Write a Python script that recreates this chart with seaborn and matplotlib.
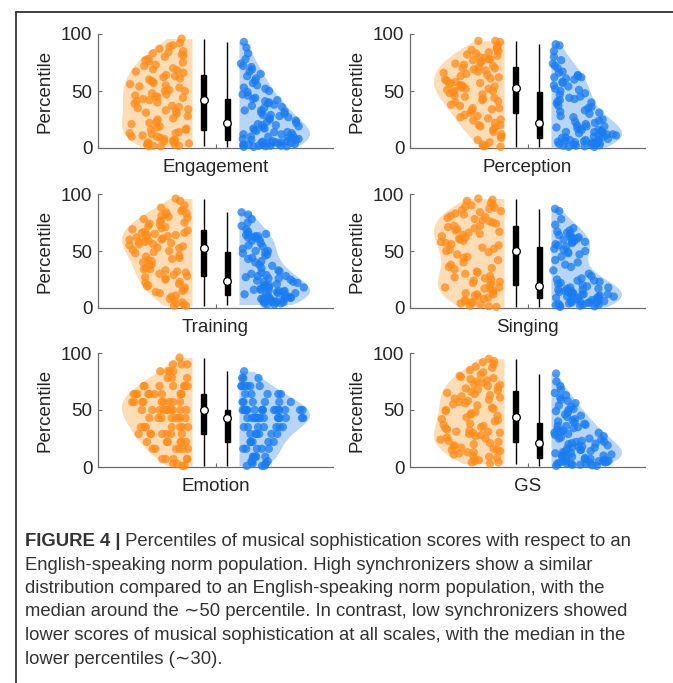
import numpy as np
import pandas as pd
import matplotlib.pyplot as plt
import seaborn as sns
from matplotlib.lines import Line2D

# ---- Data (percentiles) ----
scales = ["Engagement", "Perception", "Training", "Singing", "Emotion", "GS"]

# high synchronizers (orange, left half)
high_engagement = [1.5, 1.5, 2, 2, 3, 3, 4, 4, 5, 6, 6, 7, 7, 8, 9, 10, 10, 11, 12, 13, 13, 14,
                   16, 16, 17, 18, 19, 21, 22, 23, 25, 26, 28, 30, 31, 32, 33, 34, 35, 36, 37, 39, 40, 41,
                   42,
                   43, 44, 45, 45, 46, 47, 48, 50, 50, 51, 53, 54, 55, 56, 57, 58, 59, 60, 61, 62, 63, 64,
                   66, 67, 68, 69, 70, 72, 73, 75, 76, 77, 78, 80, 81, 82, 83, 84, 85, 87, 89, 90, 92, 96]
high_perception = [1, 1.5, 2, 3, 5, 7, 9, 10, 12, 14, 16, 18, 19, 20, 20, 22, 24, 25, 26, 27, 28, 29,
                   31, 33, 34, 35, 35, 37, 38, 40, 41, 42, 43, 44, 45, 46, 47, 48, 49, 50, 50, 51, 52, 52,
                   53,
                   54, 54, 55, 55, 56, 57, 57, 58, 59, 60, 61, 62, 63, 64, 65, 66, 67, 68, 69, 70, 70, 71,
                   72, 73, 74, 75, 76, 77, 78, 78, 79, 80, 81, 82, 83, 84, 85, 86, 87, 88, 90, 93, 94, 94]
high_training = [2, 2, 3, 4, 5, 7, 8, 10, 11, 13, 14, 15, 16, 18, 19, 20, 21, 22, 23, 25, 26, 27,
                 28, 29, 30, 31, 32, 33, 34, 34, 35, 37, 38, 40, 41, 42, 43, 44, 45, 46, 48, 49, 50, 51,
                 52.5,
                 53, 54, 55, 56, 56, 57, 58, 58, 59, 60, 60, 61, 62, 62, 63, 64, 64, 65, 66, 66, 67, 68,
                 69, 70, 71, 72, 73, 74, 75, 76, 77, 78, 79, 80, 81, 82, 83, 84, 85, 86, 88, 90, 94, 96]
high_singing = [1, 1.5, 2, 3, 4, 5, 5, 6, 7, 8, 9, 10, 11, 12, 12, 13, 14, 15, 16, 17, 18, 18,
                20, 21, 22, 23, 24, 25, 26, 27, 28, 30, 31, 32, 34, 35, 36, 38, 40, 42, 44, 45, 47, 49,
                50,
                51, 52, 53, 55, 56, 57, 58, 59, 60, 61, 62, 63, 64, 65, 66, 67, 68, 69, 70, 71, 72, 72,
                74, 75, 76, 77, 78, 79, 80, 81, 82, 83, 84, 85, 86, 87, 88, 89, 90, 91, 92, 94, 95, 96]
high_emotion = ([1] * 2 + [3] * 2 + [7] * 5 + [16] * 6 + [22] * 6 + [29] * 7 + [35] * 7 + [43] * 8
                + [50] * 10 + [57] * 9 + [64] * 10 + [71] * 7 + [78] * 3 + [84] * 4 + [90] * 3 + [96] * 1)
high_gs = [3, 4, 4, 5, 6, 7, 8, 9, 10, 11, 12, 13, 13, 14, 15, 15, 16, 17, 18, 19, 20, 21,
           22, 23, 24, 25, 26, 27, 28, 29, 30, 30, 31, 31, 32, 33, 34, 35, 36, 37, 38, 40, 41, 42,
           43.5,
           45, 46, 47, 48, 49, 50, 51, 52, 54, 55, 56, 57, 58, 59, 60, 61, 62, 63, 64, 65, 66, 67,
           68, 69, 70, 71, 72, 73, 74, 75, 76, 77, 78, 79, 80, 81, 83, 85, 87, 88, 90, 92, 93, 95]

# low synchronizers (blue, right half)
low_engagement = [1, 1, 1.5, 1.5, 2, 2, 2, 2.5, 3, 3, 3, 3.5, 4, 4, 4, 4.5, 5, 5, 5, 5.5, 6, 6,
                  7, 7, 8, 8, 9, 9, 10, 10, 11, 12, 12, 13, 14, 14, 15, 16, 17, 17, 18, 19, 20, 20,
                  21,
                  22, 23, 24, 25, 26, 27, 28, 29, 29, 30, 31, 32, 33, 33, 35, 36, 37, 38, 39, 40, 41, 42,
                  43, 44, 46, 47, 49, 50, 52, 53, 55, 57, 59, 61, 63, 65, 67, 69, 71, 72, 74, 78, 83, 88, 93]
low_perception = [1, 1, 1.5, 2, 2, 2.5, 3, 3, 3.5, 4, 4, 4.5, 5, 5, 5.5, 6, 6, 6.5, 7, 7, 7.5, 8,
                  9, 9, 10, 10, 11, 11, 12, 12, 13, 13, 14, 14, 15, 15, 16, 16, 17, 17, 18, 19, 19, 20,
                  21,
                  22, 23, 24, 25, 27, 28, 30, 31, 32, 33, 35, 36, 37, 39, 40, 41, 42, 43, 44, 45, 47, 48,
                  50, 51, 52, 54, 55, 57, 58, 60, 61, 62, 62, 63, 64, 66, 67, 70, 72, 74, 77, 80, 85, 90, 91]
low_training = [3, 3, 4, 4, 5, 5, 5, 6, 6, 6, 7, 7, 7, 8, 8, 8, 8, 9, 9, 9, 10, 10,
                11, 12, 12, 13, 13, 14, 14, 15, 15, 15, 16, 16, 17, 18, 18, 19, 20, 20, 21, 22, 23, 23,
                24,
                25, 26, 26, 27, 28, 28, 29, 30, 31, 32, 33, 35, 37, 38, 40, 41, 43, 44, 46, 47, 48, 49,
                50, 50, 52, 54, 55, 57, 59, 60, 62, 62, 63, 63, 64, 65, 65, 67, 69, 72, 75, 78, 82, 84]
low_singing = [1, 1.5, 2, 2, 2.5, 3, 3, 3.5, 4, 4, 4.5, 5, 5, 5.5, 6, 6, 6.5, 7, 7, 7.5, 8, 8.5,
               9, 9, 10, 10, 10, 11, 11, 12, 12, 12, 13, 13, 14, 14, 15, 15, 16, 16, 17, 17, 18, 18,
               19,
               20, 21, 22, 23, 24, 24, 25, 26, 28, 30, 33, 36, 38, 40, 42, 45, 47, 48, 49, 50, 51, 52,
               54, 55, 56, 57, 58, 58, 59, 60, 60, 61, 62, 62, 63, 64, 65, 66, 67, 68, 70, 73, 78, 85, 87]
low_emotion = ([1] * 3 + [3] * 3 + [5] * 3 + [9] * 5 + [16] * 5 + [22] * 5 + [29] * 6 + [35] * 7
               + [43] * 14 + [50] * 16 + [57] * 6 + [64] * 5 + [71] * 6 + [78] * 3 + [84] * 1)
low_gs = [1, 1, 1.5, 2, 2, 2.5, 3, 3, 3, 3.5, 4, 4, 4.5, 5, 5, 5, 5.5, 6, 6, 6.5, 7, 7,
          8, 8, 9, 9, 10, 10, 11, 11, 12, 12, 13, 14, 14, 15, 15, 16, 17, 17, 18, 18, 19, 20,
          20.5,
          21, 22, 22, 23, 24, 25, 25, 26, 27, 28, 29, 30, 30, 31, 32, 33, 34, 35, 36, 36, 37, 38,
          39, 40, 41, 42, 44, 45, 46, 48, 49, 50, 51, 53, 54, 56, 58, 59, 61, 63, 65, 68, 71, 75, 82]

high = [high_engagement, high_perception, high_training, high_singing, high_emotion, high_gs]
low = [low_engagement, low_perception, low_training, low_singing, low_emotion, low_gs]

# ---- Style ----
sns.set_style("ticks")
plt.rcParams["font.family"] = ["Liberation Sans", "DejaVu Sans"]
text_col = "#262626"
spine_col = "#6e6e6e"
fill_pal = {"High": "#FDDCB6", "Low": "#B8D5F8"}
dot_pal = {"High": "#FF8C1A", "Low": "#1A7CF0"}
groups = ["High", "Low"]
BW_ADJ = 1.35


def kde_span(vals, at):
    # relative half-violin width at each value (same scott rule as seaborn)
    v = np.asarray(vals, float)
    bw = BW_ADJ * v.std(ddof=1) * len(v) ** (-1 / 5)
    dens = lambda t: np.exp(-0.5 * ((np.asarray(t)[:, None] - v[None, :]) / bw) ** 2).sum(1)
    grid = np.linspace(v.min(), v.max(), 100)
    return dens(at) / dens(grid).max()


fig = plt.figure(figsize=(6.73, 6.83), dpi=100)
rng = np.random.default_rng(7)

lefts = [98 / 673, 410 / 673]
bottoms = [1 - 148 / 683, 1 - 308 / 683, 1 - 467 / 683]
w, h = 235 / 673, 114 / 683

for i, scale in enumerate(scales):
    ax = fig.add_axes([lefts[i % 2], bottoms[i // 2], w, h])
    df = pd.DataFrame({
        "scale": scale,
        "value": high[i] + low[i],
        "group": ["High"] * len(high[i]) + ["Low"] * len(low[i]),
    })

    sns.violinplot(data=df, x="scale", y="value", hue="group", hue_order=groups,
                   split=True, gap=0.4, width=2.0, cut=0, inner=None, bw_adjust=BW_ADJ,
                   density_norm="width", palette=fill_pal, saturation=1,
                   linewidth=0, legend=False, ax=ax)

    sns.boxplot(data=df, x="scale", y="value", hue="group", hue_order=groups,
                width=0.4, gap=0.8, whis=(0, 100), showcaps=False, showfliers=False,
                palette={"High": "black", "Low": "black"}, saturation=1,
                linecolor="black", linewidth=1, medianprops={"visible": False},
                legend=False, ax=ax)

    sns.pointplot(data=df, x="scale", y="value", hue="group", hue_order=groups,
                  estimator="median", errorbar=None, dodge=0.2, markers="o",
                  linestyle="none", palette={"High": "white", "Low": "white"},
                  markersize=5.5, markeredgecolor="black", markeredgewidth=0.9,
                  legend=False, ax=ax, zorder=6)

    # jittered points inside each half violin
    hv = np.asarray(high[i], float)
    lv = np.asarray(low[i], float)
    hx = -0.2 - rng.uniform(0.05, 0.93, len(hv)) * 0.6 * kde_span(hv, hv)
    lx = 0.2 + rng.uniform(0.05, 0.93, len(lv)) * 0.6 * kde_span(lv, lv)
    sns.scatterplot(x=np.r_[hx, lx], y=np.r_[hv, lv], hue=df["group"].values,
                    hue_order=groups, palette=dot_pal, s=36, alpha=0.75,
                    linewidth=0, legend=False, ax=ax, zorder=3, clip_on=False)

    ax.set_xlim(-1, 1)
    ax.set_ylim(0, 100)
    ax.set_yticks([0, 50, 100])
    ax.set_xticks([0], [scale])
    ax.set_xlabel("")
    ax.set_ylabel("Percentile", fontsize=13.5, color=text_col)
    ax.yaxis.set_label_coords(-0.19, 0.5)
    ax.tick_params(direction="in", length=3, width=0.8, color=spine_col,
                   labelsize=13.5, labelcolor=text_col)
    ax.tick_params(axis="x", pad=8)
    ax.tick_params(axis="y", pad=4)
    for side in ["top", "right"]:
        ax.spines[side].set_visible(False)
    for side in ["left", "bottom"]:
        ax.spines[side].set_color(spine_col)
        ax.spines[side].set_linewidth(0.9)

# ---- frame lines ----
fig.add_artist(Line2D([16 / 673, 1], [1 - 12 / 683] * 2, color="#333333", lw=1.3))
fig.add_artist(Line2D([16 / 673] * 2, [0, 1 - 12 / 683], color="#333333", lw=1.3))

# ---- caption ----
cap_col = "#333333"
cap_size = 13.3
x0 = 25 / 673
line_h = 23.5 / 683
y0 = 1 - 550 / 683
bold = fig.text(x0, y0, "FIGURE 4 |", fontsize=cap_size, fontweight="bold",
                color=cap_col, va="bottom")
ax.annotate(" Percentiles of musical sophistication scores with respect to an",
            xy=(1, 0), xycoords=bold, va="bottom", ha="left",
            fontsize=cap_size, color=cap_col, annotation_clip=False)
lines = [
    "English-speaking norm population. High synchronizers show a similar",
    "distribution compared to an English-speaking norm population, with the",
    "median around the \u223c50 percentile. In contrast, low synchronizers showed",
    "lower scores of musical sophistication at all scales, with the median in the",
    "lower percentiles (\u223c30).",
]
for k, txt in enumerate(lines):
    fig.text(x0, y0 - (k + 1) * line_h, txt, fontsize=cap_size, color=cap_col, va="bottom")

fig.savefig("out.png", dpi=100)
